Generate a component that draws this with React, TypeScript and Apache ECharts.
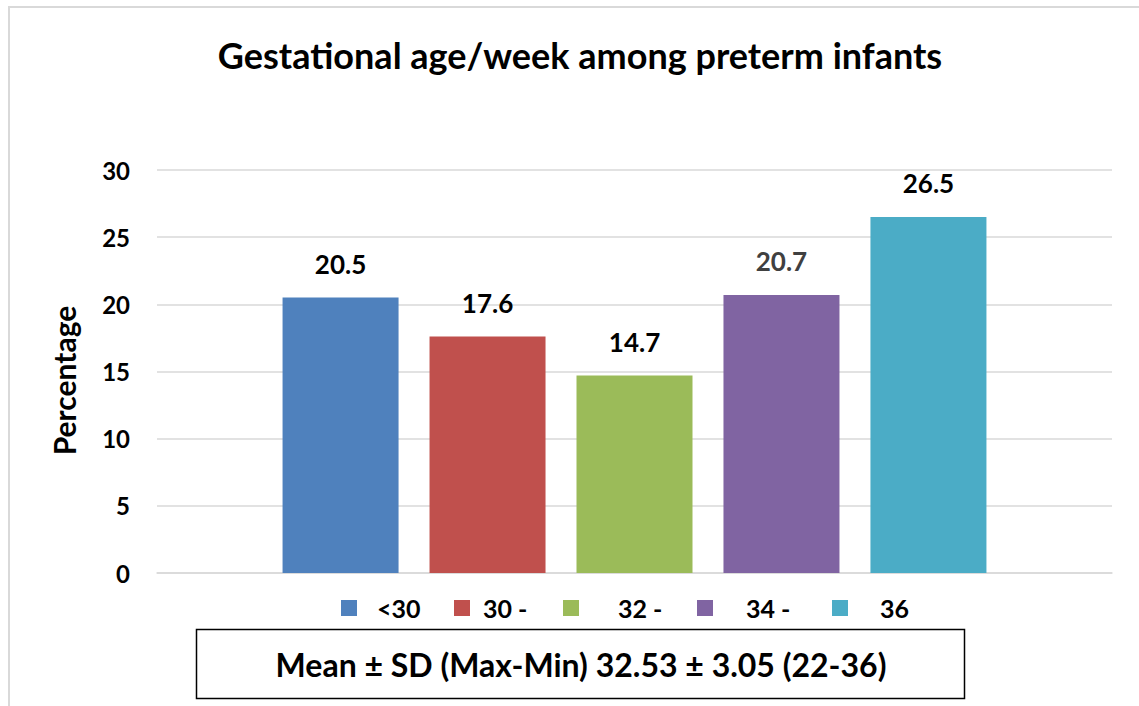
import React, { useEffect, useRef } from "react";
import * as echarts from "echarts";

const groups = ["<30", "30 -", "32 -", "34 -", "36"];
const percentages = [20.5, 17.6, 14.7, 20.7, 26.5];
const colors = ["#4F81BD", "#C0504D", "#9BBB59", "#8064A2", "#4BACC6"];
const labelColors = ["#000000", "#000000", "#000000", "#404040", "#000000"];
const legendIconLeft = [341, 454, 563, 697, 832];
const legendTextPad = [15, 8, 34, 28, 27];
const titleText = "Gestational age/week among preterm infants";
const statText = "Mean \u00B1 SD (Max-Min) 32.53 \u00B1 3.05 (22-36)";
const yMin = 0;
const yMax = 30;
const yStep = 5;

const FONT = "Lato, 'Open Sans', sans-serif";

export default function App() {
  const ref = useRef<HTMLDivElement>(null);
  useEffect(() => {
    if (!ref.current) return;
    const chart = echarts.init(ref.current, null, { renderer: "svg" });
    const series = groups.map((g, i) => ({
      name: g,
      type: "bar",
      data: [percentages[i]],
      barWidth: 116,
      barGap: "26.7%",
      itemStyle: { color: colors[i] },
      label: {
        show: true,
        position: "top",
        distance: 21,
        fontFamily: FONT,
        fontWeight: "bold",
        fontSize: 26,
        color: labelColors[i],
      },
    }));
    const legends = groups.map((g, i) => ({
      data: [g],
      left: legendIconLeft[i] - 5,
      top: 590,
      orient: "horizontal",
      icon: "rect",
      itemWidth: 16,
      itemHeight: 16,
      textStyle: {
        fontFamily: FONT,
        fontWeight: "bold",
        fontSize: 25,
        lineHeight: 26,
        color: "#000",
        padding: [0, 0, 0, legendTextPad[i]],
      },
      selectedMode: false,
    }));
    chart.setOption({
      animation: false,
      backgroundColor: "#ffffff",
      title: {
        text: titleText,
        left: 575,
        textAlign: "center",
        top: 32,
        textStyle: {
          fontFamily: FONT,
          fontWeight: "bold",
          fontSize: 36,
          color: "#000",
        },
      },
      legend: legends,
      grid: { left: 157, right: 27, top: 170, bottom: 133 },
      xAxis: {
        type: "category",
        data: ["Gestational age"],
        axisLine: { show: true, lineStyle: { color: "#d9d9d9", width: 1.5 } },
        axisTick: { show: false },
        axisLabel: { show: false },
      },
      yAxis: {
        type: "value",
        min: yMin,
        max: yMax,
        interval: yStep,
        name: "Percentage",
        nameLocation: "middle",
        nameGap: 78,
        nameTextStyle: {
          fontFamily: FONT,
          fontWeight: "bold",
          fontSize: 30,
          color: "#000",
          padding: [0, 18, 0, 0],
        },
        axisLine: { show: false },
        axisTick: { show: false },
        axisLabel: {
          margin: 27,
          fontFamily: FONT,
          fontWeight: "bold",
          fontSize: 24,
          color: "#000",
        },
        splitLine: { lineStyle: { color: "#d9d9d9", width: 1.5 } },
      },
      series,
      graphic: [
        {
          type: "rect",
          shape: { x: 9, y: 7, width: 1140, height: 720 },
          style: { fill: "none", stroke: "#d9d9d9", lineWidth: 2 },
          silent: true,
          z: -1,
        },
        {
          type: "rect",
          shape: { x: 196.5, y: 629.5, width: 768, height: 69 },
          style: { fill: "#ffffff", stroke: "#000000", lineWidth: 1.5 },
          silent: true,
        },
        {
          type: "text",
          x: 581,
          y: 664,
          style: {
            text: statText,
            fontFamily: FONT,
            fontWeight: "bold",
            fontSize: 32,
            fill: "#000",
            textAlign: "center",
            textVerticalAlign: "middle",
          },
          silent: true,
        },
      ],
    });
    return () => chart.dispose();
  }, []);
  return (
    <div
      ref={ref}
      style={{ position: "fixed", left: 0, top: 0, width: 1139, height: 706 }}
    />
  );
}
